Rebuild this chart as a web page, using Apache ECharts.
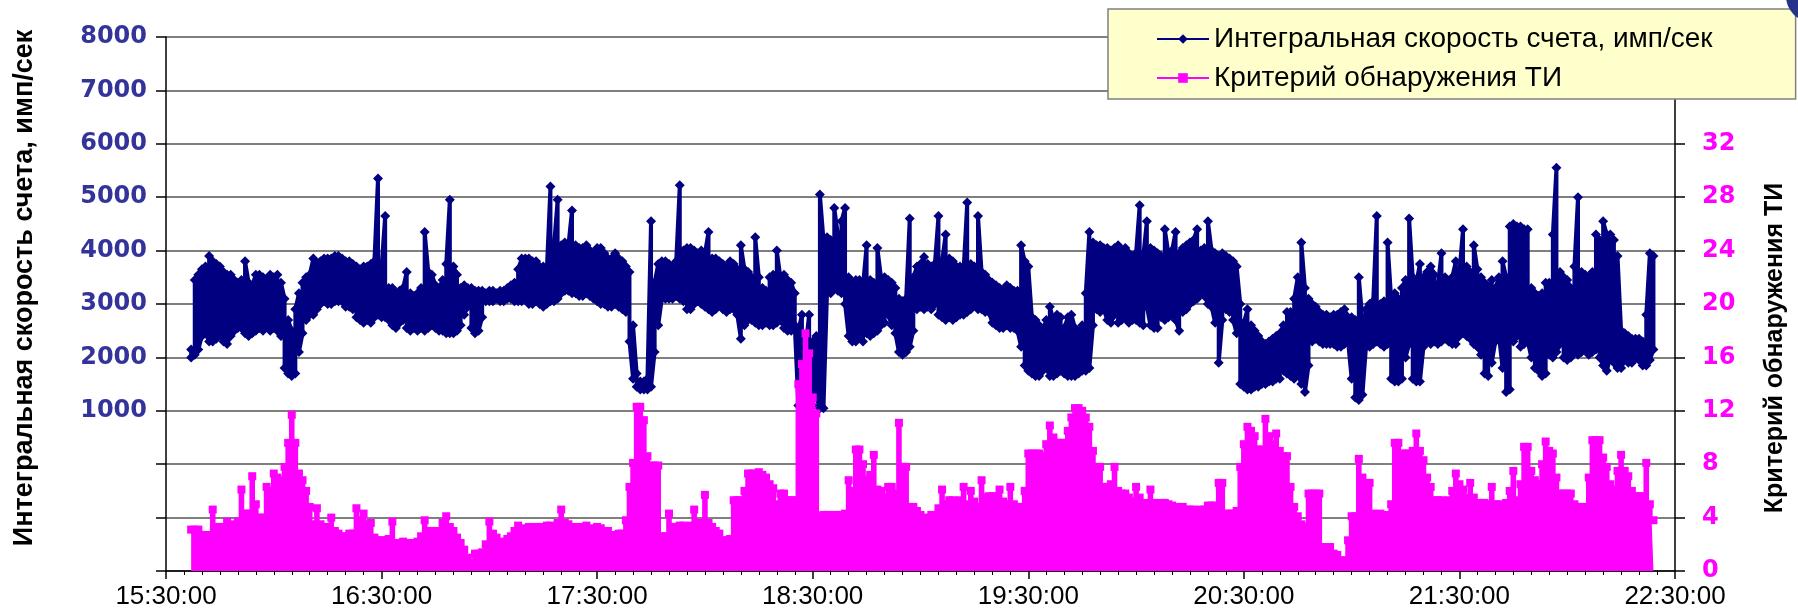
<!DOCTYPE html>
<html>
<head>
<meta charset="utf-8">
<script src="https://cdn.jsdelivr.net/npm/echarts@6/dist/echarts.min.js"></script>
<style>
  html, body { margin: 0; padding: 0; background: #ffffff; }
  #chart { width: 1798px; height: 616px; }
</style>
</head>
<body>
<div id="chart"></div>
<script>
// Series names and axis titles
const seriesNames = ['Интегральная скорость счета, имп/сек', 'Критерий обнаружения ТИ'];
const leftAxisTitle = 'Интегральная скорость счета, имп/сек';
const rightAxisTitle = 'Критерий обнаружения ТИ';

// Hourly tick labels, 15:30 .. 22:30
const timeLabels = ['15:30:00', '16:30:00', '17:30:00', '18:30:00', '19:30:00', '20:30:00', '21:30:00', '22:30:00'];

// One entry per minute; the first one is at 15:37 (minute 7 after 15:30)
const firstMinute = 7;

// Integral count rate, counts per second: highest reading within each minute
const countRateHigh = [
  2150, 3450, 3550, 3650, 3700, 3900, 3800, 3750, 3700, 3600,
  3550, 3550, 3450, 3400, 3450, 3800, 3400, 3350, 3550, 3550,
  3500, 3450, 3550, 3500, 3550, 3400, 3100, 2700, 2500, 2900,
  3200, 3400, 3500, 3550, 3850, 3750, 3800, 3850, 3850, 3850,
  3900, 3900, 3850, 3800, 3800, 3750, 3700, 3650, 3700, 3700,
  3750, 3800, 5350, 3700, 4650, 3300, 3300, 3200, 3250, 3300,
  3600, 3200, 3150, 3200, 3300, 4350, 3600, 3550, 3350, 3300,
  3450, 3750, 4950, 3700, 3550, 3300, 3350, 3300, 3300, 3250,
  3250, 3250, 3200, 3250, 3250, 3200, 3250, 3250, 3300, 3350,
  3400, 3650, 3850, 3850, 3850, 3800, 3800, 3700, 3700, 3650,
  5200, 4100, 4950, 4100, 4150, 4100, 4750, 4100, 4050, 4050,
  4100, 4000, 3950, 4050, 4050, 3950, 3850, 3850, 3950, 3850,
  3800, 3700, 3600, 2600, 1700, 1550, 1550, 1600, 4550, 3400,
  3750, 3800, 3800, 3750, 3700, 3800, 5225, 4000, 4050, 4050,
  4000, 3950, 4000, 3950, 4350, 3850, 3850, 3800, 3750, 3700,
  3800, 3750, 3650, 4100, 3650, 3600, 3500, 4250, 3500, 3300,
  3250, 3500, 3550, 4000, 3500, 3550, 3450, 3400, 3200, 2500,
  2800, 2200, 2800, 2300, 2400, 5050, 4200, 4250, 4200, 4800,
  4300, 4550, 4800, 3500, 3400, 3450, 3450, 3350, 4100, 3450,
  3400, 4050, 3500, 3500, 3450, 3400, 3300, 3100, 3050, 3100,
  4600, 3500, 3700, 3750, 3880, 3750, 3700, 3750, 4650, 3800,
  4300, 3850, 3800, 3700, 3700, 3650, 4900, 3750, 3700, 4650,
  3600, 3550, 3450, 3400, 3350, 3300, 3250, 3350, 3300, 3250,
  3250, 4100, 3800, 3700, 2750, 2700, 2600, 2500, 2700, 2950,
  2700, 2800, 2750, 2550, 2750, 2800, 2550, 2450, 2600, 3200,
  4350, 4150, 4100, 4100, 4050, 4050, 4000, 4050, 4100, 4000,
  4050, 3950, 3900, 3950, 4850, 3900, 4550, 4050, 4000, 3950,
  3900, 4400, 3950, 4000, 4350, 3950, 4050, 4100, 4150, 4200,
  4400, 4000, 4050, 4550, 4000, 3950, 3900, 3950, 3900, 3850,
  3800, 3700, 3000, 2650, 2900, 2600, 2500, 2400, 2300, 2250,
  2300, 2350, 2400, 2450, 2600, 2850, 2850, 3100, 3500, 4150,
  3300, 3100, 3000, 2950, 2850, 2800, 2800, 2750, 2800, 2800,
  2850, 2900, 2750, 2750, 2700, 3500, 2700, 2900, 3000, 3050,
  4650, 3000, 3050, 4150, 3100, 3200, 3100, 3300, 3450, 4600,
  3500, 3400, 3750, 3500, 3600, 3700, 3550, 3350, 3950, 3500,
  3400, 3500, 3800, 3600, 4400, 3700, 3600, 4100, 3650, 3500,
  3400, 3300, 3450, 3300, 3500, 3800, 3500, 4450, 4500, 4450,
  4450, 4400, 4400, 3300, 3200, 3150, 3200, 3400, 3400, 4300,
  5550, 3600, 3500, 3450, 3300, 3700, 5000, 3600, 3550, 3500,
  3600, 4300, 4200, 4550, 4300, 4300, 4200, 3900, 2500, 2450,
  2400, 2350, 2350, 2350, 2300, 2800, 3950, 3900
];

// Integral count rate, counts per second: lowest reading within each minute
const countRateLow = [
  2000, 2050, 2150, 2400, 2450, 2300, 2300, 2350, 2450, 2300,
  2250, 2400, 2500, 2550, 2550, 2450, 2400, 2450, 2500, 2550,
  2500, 2600, 2500, 2550, 2500, 2400, 1800, 1700, 1650, 1700,
  2100, 2450, 2700, 2800, 2800, 2900, 3000, 3050, 3000, 3000,
  3050, 3050, 3050, 2950, 2950, 2900, 2750, 2700, 2650, 2700,
  2650, 2750, 2800, 2750, 2750, 2700, 2600, 2550, 2650, 2700,
  2550, 2500, 2550, 2500, 2550, 2500, 2550, 2600, 2550, 2500,
  2500, 2450, 2450, 2450, 2500, 2600, 2800, 2950, 2550, 2450,
  2500, 2750, 3050, 3050, 3050, 3100, 3050, 3050, 3100, 3100,
  3050, 3050, 3050, 3100, 3000, 3000, 3050, 3000, 2950, 3000,
  3050, 3050, 3100, 3200, 3250, 3250, 3200, 3200, 3150, 3150,
  3200, 3150, 3100, 3050, 3000, 3000, 2950, 2950, 3000, 2950,
  2900, 2850, 2300, 1600, 1450, 1400, 1400, 1400, 1450, 2100,
  2600, 3100, 3100, 3100, 3100, 3150, 3100, 3050, 2900, 2900,
  3000, 3050, 3000, 2950, 2900, 2850, 2900, 3000, 2900, 2850,
  2900, 2900, 2800, 2350, 2600, 2700, 2700, 2650, 2600, 2600,
  2650, 2600, 2600, 2650, 2700, 2550, 2500, 2500, 2600, 1100,
  1050, 1050, 1050, 1100, 1250, 1050, 1050, 3250, 3200, 3300,
  3250, 3200, 3000, 2400, 2300, 2300, 2400, 2300, 2450, 2400,
  2450, 2500, 2600, 2650, 2800, 2600, 2450, 2100, 2050, 2100,
  2200, 2500, 2900, 2950, 2900, 2950, 2900, 3000, 2800, 2750,
  2700, 2750, 2700, 2750, 2800, 2800, 2850, 2900, 3000, 2900,
  2900, 2850, 2850, 2650, 2600, 2550, 2550, 2600, 2550, 2550,
  2500, 2200, 1850, 1750, 1700, 1650, 1650, 1750, 1800, 1650,
  1650, 1700, 1750, 1700, 1650, 1650, 1650, 1700, 1750, 1750,
  1800, 2600, 2900, 2850, 2900, 2700, 2650, 2800, 2650, 2700,
  2750, 2650, 2700, 2700, 2650, 2600, 2950, 2600, 2550, 2550,
  2750, 2700, 2750, 2800, 2700, 2500, 2850, 2900, 3000, 3050,
  3100, 3200, 3150, 3000, 2950, 2650, 1900, 2700, 2900, 2850,
  2700, 2450, 1500, 1450, 1400, 1400, 1450, 1450, 1500, 1500,
  1550, 1550, 1600, 1600, 1750, 1700, 1650, 1600, 1700, 1500,
  1350, 1850, 2300, 2350, 2300, 2250, 2250, 2250, 2250, 2200,
  2200, 2250, 2300, 1600, 1250, 1200, 1300, 2200, 2200, 2250,
  2300, 2250, 2200, 2250, 1600, 1550, 1550, 1600, 2000, 2250,
  1600, 1550, 1550, 2200, 2300, 2250, 2300, 2250, 2300, 2350,
  2300, 2250, 2250, 2400, 2450, 2400, 2350, 2250, 2200, 2050,
  1700, 1650, 1900, 2300, 2400, 1800, 1350, 1400, 2300, 2400,
  2200, 2250, 2300, 2000, 1800, 1750, 1650, 1700, 2050, 2000,
  2100, 2250, 2000, 1950, 2000, 2100, 2050, 2100, 2150, 2050,
  2100, 2150, 2000, 1850, 1750, 2000, 1900, 1800, 1800, 1950,
  1900, 1900, 2000, 1950, 1850, 1850, 1950, 2150
];

// Detection criterion (right axis), one value per minute
const criterion = [
  3.1, 3.1, 3.1, 2.7, 2.7, 2.7, 4.6, 3.3, 3.3, 3.3,
  3.7, 3.3, 3.5, 3.7, 6.1, 4.3, 4.3, 7.1, 5.0, 4.0,
  4.0, 6.3, 6.0, 7.3, 7.0, 6.8, 7.8, 9.6, 11.7, 9.6,
  7.3, 6.8, 6.0, 4.8, 3.5, 4.7, 3.5, 3.3, 3.3, 4.0,
  3.0, 2.8, 2.6, 2.6, 2.8, 2.8, 4.7, 3.8, 4.3, 3.5,
  3.6, 2.5, 2.3, 2.3, 2.3, 2.4, 3.7, 2.1, 2.1, 2.2,
  2.1, 2.0, 2.1, 2.2, 2.6, 3.8, 3.0, 3.0, 2.9, 3.0,
  3.6, 4.1, 3.3, 3.0, 2.5, 2.1, 1.6, 1.0, 0.6, 1.3,
  1.3, 1.4, 2.0, 3.7, 2.8, 2.5, 2.2, 2.1, 2.4, 2.6,
  3.0, 3.4, 3.0, 3.2, 3.3, 3.1, 3.3, 3.3, 3.2, 3.4,
  3.4, 3.3, 3.6, 4.6, 3.6, 3.5, 2.9, 3.3, 2.8, 3.3,
  3.4, 3.2, 3.1, 3.3, 3.2, 3.0, 3.0, 2.7, 2.6, 2.8,
  2.8, 3.8, 6.3, 8.1, 12.3, 12.3, 11.3, 8.6, 7.9, 7.9,
  7.9, 2.6, 2.6, 4.3, 3.3, 3.3, 3.4, 3.4, 3.3, 3.4,
  4.6, 3.6, 3.6, 5.7, 3.6, 3.3, 3.0, 2.8, 2.3, 2.3,
  2.4, 5.3, 5.3, 5.3, 6.0, 7.3, 7.3, 7.3, 7.4, 7.2,
  7.0, 6.5, 6.2, 5.0, 5.8, 5.8, 5.3, 5.3, 5.3, 14.0,
  15.5, 17.8, 16.3, 13.0, 11.8, 4.1, 4.2, 4.2, 4.1, 4.2,
  4.2, 4.2, 4.3, 6.8, 6.0, 9.1, 9.1, 8.0, 6.8, 7.2,
  8.7, 6.1, 6.0, 5.5, 6.3, 6.3, 5.8, 11.1, 7.8, 7.8,
  4.8, 4.8, 4.5, 4.2, 4.0, 3.9, 4.2, 4.2, 4.7, 6.1,
  5.0, 5.3, 5.3, 5.2, 5.3, 6.3, 5.0, 6.0, 5.2, 4.8,
  6.8, 5.5, 5.6, 5.6, 5.6, 6.1, 5.2, 5.0, 6.3, 5.0,
  4.8, 4.8, 6.0, 8.8, 8.8, 8.8, 8.8, 8.6, 9.5, 10.9,
  10.0, 9.6, 9.6, 9.6, 10.5, 11.5, 12.2, 12.2, 12.0, 11.5,
  10.8, 9.0, 7.8, 7.8, 6.3, 6.3, 6.5, 7.8, 6.0, 5.8,
  5.8, 5.5, 5.2, 6.3, 5.5, 5.0, 5.1, 6.1, 5.1, 4.6,
  5.1, 5.1, 5.0, 4.9, 4.7, 4.8, 4.8, 4.6, 4.6, 4.6,
  4.5, 4.6, 4.6, 4.9, 4.9, 4.9, 6.6, 6.6, 4.3, 4.3,
  4.3, 4.5, 7.8, 9.5, 10.8, 10.5, 10.1, 9.1, 9.1, 11.4,
  10.1, 9.5, 10.3, 9.0, 8.6, 8.6, 6.3, 4.8, 4.1, 3.5,
  3.3, 5.8, 5.8, 5.8, 5.8, 1.8, 1.8, 1.8, 1.3, 1.2,
  0.8, 0.8, 2.3, 4.1, 4.1, 8.4, 7.0, 6.6, 6.6, 4.3,
  4.2, 4.3, 4.1, 4.2, 5.0, 9.6, 9.6, 8.8, 8.8, 8.8,
  9.0, 10.3, 9.0, 8.3, 7.0, 6.3, 5.3, 5.3, 5.3, 5.2,
  5.3, 6.0, 7.3, 6.5, 6.1, 5.5, 6.6, 5.5, 5.1, 5.1,
  5.1, 5.0, 6.3, 5.0, 5.0, 4.9, 5.1, 6.0, 7.5, 5.3,
  6.5, 9.3, 9.3, 7.5, 6.8, 6.5, 8.0, 9.7, 9.0, 8.8,
  7.0, 5.8, 5.8, 5.8, 5.8, 5.0, 4.8, 4.8, 4.8, 7.0,
  9.8, 9.8, 9.8, 8.5, 7.8, 6.5, 6.1, 7.5, 8.7, 7.5,
  7.1, 6.0, 5.6, 5.6, 5.6, 8.1, 5.0, 3.8
];

// The count-rate trace visits both readings of every minute, alternating the
// order so consecutive minutes join along the top and bottom edges.
const rateData = [];
countRateHigh.forEach((high, i) => {
  const t = firstMinute + i;
  const low = countRateLow[i];
  if (i % 2 === 0) {
    rateData.push([t, high], [t, low]);
  } else {
    rateData.push([t, low], [t, high]);
  }
});
const criterionData = criterion.map((v, i) => [firstMinute + i, v]);

const NAVY = '#000080';
const MAGENTA = '#FF00FF';

const chart = echarts.init(document.getElementById('chart'), null, { renderer: 'canvas' });

chart.setOption({
  animation: false,
  backgroundColor: '#ffffff',
  grid: { left: 166, right: 123, top: 37, bottom: 45, containLabel: false },
  legend: {
    orient: 'vertical',
    left: 1108,
    top: 9,
    z: 20,
    backgroundColor: '#FFFFCC',
    borderColor: '#808080',
    borderWidth: 1.5,
    padding: [15, 83, 6, 48],
    itemWidth: 52,
    itemHeight: 12,
    itemGap: 9,
    textStyle: { fontFamily: 'Liberation Sans', fontSize: 28, color: '#000', lineHeight: 30 },
    data: seriesNames
  },
  xAxis: {
    type: 'value',
    min: 0,
    max: 420,
    interval: 60,
    axisLine: { onZero: false, lineStyle: { color: '#000', width: 1.5 } },
    axisTick: { show: true, length: 8, lineStyle: { color: '#000', width: 1.5 } },
    minorTick: { show: true, splitNumber: 12, length: 4, lineStyle: { color: '#000', width: 1 } },
    splitLine: { show: false },
    axisLabel: {
      formatter: v => timeLabels[Math.round(v / 60)] || '',
      fontFamily: 'Liberation Sans',
      fontSize: 26,
      color: '#000',
      margin: 13
    }
  },
  yAxis: [
    {
      type: 'value',
      position: 'left',
      min: -2000,
      max: 8000,
      interval: 1000,
      axisLine: { show: true, lineStyle: { color: '#000', width: 1.5 } },
      axisTick: { show: true, length: 10, lineStyle: { color: '#000', width: 1.5 } },
      splitLine: { show: true, lineStyle: { color: '#555555', width: 1.5 } },
      axisLabel: {
        formatter: v => (v > 0 ? String(v) : ''),
        fontFamily: 'DejaVu Sans',
        fontWeight: 'bold',
        fontSize: 24,
        color: '#333399',
        margin: 19
      }
    },
    {
      type: 'value',
      position: 'right',
      min: 0,
      max: 40,
      interval: 4,
      axisLine: { show: true, lineStyle: { color: '#000', width: 1.5 } },
      axisTick: { show: true, length: 10, lineStyle: { color: '#000', width: 1.5 } },
      splitLine: { show: false },
      axisLabel: {
        // the two top labels sit under the legend box
        formatter: v => (v <= 32 ? String(v) : ''),
        fontFamily: 'DejaVu Sans',
        fontWeight: 'bold',
        fontSize: 24,
        color: MAGENTA,
        margin: 27
      }
    }
  ],
  series: [
    {
      name: seriesNames[0],
      type: 'line',
      yAxisIndex: 0,
      data: rateData,
      symbol: 'diamond',
      symbolSize: 10,
      showAllSymbol: true,
      lineStyle: { color: NAVY, width: 4 },
      itemStyle: { color: NAVY },
      z: 2
    },
    {
      name: seriesNames[1],
      type: 'line',
      yAxisIndex: 1,
      data: criterionData,
      step: 'middle',
      symbol: 'rect',
      symbolSize: 8,
      showAllSymbol: true,
      lineStyle: { color: MAGENTA, width: 2 },
      itemStyle: { color: MAGENTA },
      areaStyle: { color: MAGENTA, opacity: 1 },
      z: 3
    }
  ],
  graphic: [
    {
      type: 'text',
      x: 25,
      y: 288,
      rotation: Math.PI / 2,
      style: {
        text: leftAxisTitle,
        font: 'bold 27px "Liberation Sans", Arial, sans-serif',
        fill: '#000',
        textAlign: 'center',
        textVerticalAlign: 'middle'
      }
    },
    {
      type: 'text',
      x: 1775,
      y: 348,
      rotation: Math.PI / 2,
      style: {
        text: rightAxisTitle,
        font: 'bold 25px "Liberation Sans", Arial, sans-serif',
        fill: '#000',
        textAlign: 'center',
        textVerticalAlign: 'middle'
      }
    },
    {
      type: 'circle',
      shape: { cx: 1812, cy: -4, r: 26 },
      style: { fill: '#25338A' },
      z: 30
    }
  ]
});
</script>
</body>
</html>
